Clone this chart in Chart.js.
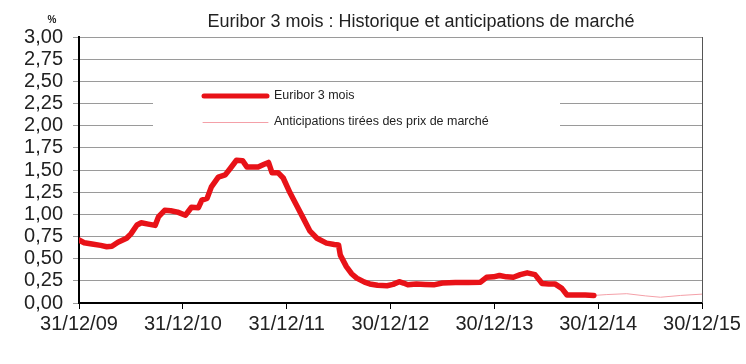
<!DOCTYPE html>
<html>
<head>
<meta charset="utf-8">
<script src="https://cdn.jsdelivr.net/npm/chart.js@4"></script>
<style>
  html, body { margin: 0; padding: 0; background: #fff; }
  #wrap { width: 746px; height: 364px; }
</style>
</head>
<body>
<div id="wrap"><canvas id="myChart" width="746" height="364"></canvas></div>
<script>
// titles and tick labels
var chartTitle = "Euribor 3 mois : Historique et anticipations de marché";
var unitLabel = "%";
var xTickLabels = ["31/12/09", "31/12/10", "31/12/11", "30/12/12", "30/12/13", "30/12/14", "30/12/15"];
var seriesNames = ["Euribor 3 mois", "Anticipations tirées des prix de marché"];

// Euribor 3 mois, months since 31/12/09
var euriborMonths = [0, 0.6, 1.5, 2.5, 3.2, 3.8, 4.5, 5.5, 6.0, 6.7, 7.2, 8.0, 8.8, 9.2, 9.9, 10.6, 11.4, 12.3,
    13.0, 13.8, 14.2, 14.8, 15.3, 16.1, 16.9, 17.5, 18.2, 18.9, 19.4, 20.2, 20.7, 21.4, 21.9, 22.3, 23.0, 23.6,
    24.4, 25.2, 25.9, 26.7, 27.5, 28.6, 29.5, 30.0, 30.2, 30.9, 31.5, 32.1, 33.0, 33.6, 34.5, 35.6, 36.3, 37.0,
    37.5, 38.0, 39.0, 40.0, 41.0, 42.0, 43.5, 45.0, 46.4, 47.1, 47.9, 48.6, 49.4, 50.2, 51.0, 51.8, 52.7, 53.2,
    53.5, 54.3, 55.0, 55.8, 56.4, 57.5, 58.5, 59.5];
var euriborValues = [0.71, 0.68, 0.665, 0.65, 0.635, 0.64, 0.685, 0.73, 0.78, 0.88, 0.905, 0.89, 0.875, 0.975, 1.045, 1.04, 1.025, 0.99,
    1.08, 1.075, 1.16, 1.18, 1.31, 1.42, 1.445, 1.52, 1.61, 1.605, 1.535, 1.535, 1.535, 1.565, 1.585, 1.47, 1.47, 1.41,
    1.24, 1.09, 0.96, 0.81, 0.73, 0.675, 0.66, 0.655, 0.54, 0.41, 0.33, 0.28, 0.235, 0.215, 0.2, 0.195, 0.21, 0.24,
    0.225, 0.205, 0.215, 0.21, 0.205, 0.225, 0.23, 0.23, 0.235, 0.29, 0.295, 0.31, 0.295, 0.29, 0.32, 0.34, 0.32, 0.26,
    0.22, 0.215, 0.215, 0.165, 0.09, 0.09, 0.09, 0.085];

// Anticipations tirées des prix de marché
var anticipMonths = [59.5, 61, 63.3, 65.5, 67.2, 69.5, 72];
var anticipValues = [0.085, 0.095, 0.105, 0.08, 0.065, 0.085, 0.1];

var RED = 'rgb(232,18,24)';
var PINK = 'rgb(244,160,168)';
var FONT = "'Liberation Sans', Arial, sans-serif";

function toPoints(xs, ys) {
    var pts = [];
    for (let i = 0; i < xs.length; i++) {
        pts.push({ x: xs[i], y: ys[i] });
    }
    return pts;
}

// title, unit, right border and the boxed legend
var decorations = {
    id: 'decorations',
    afterDraw: function (chart) {
        var ctx = chart.ctx;
        var area = chart.chartArea;
        ctx.save();
        ctx.fillStyle = '#222';
        ctx.font = '18px ' + FONT;
        ctx.textAlign = 'center';
        ctx.textBaseline = 'alphabetic';
        ctx.fillText(chartTitle, 421, 27);
        ctx.font = 'bold 10px ' + FONT;
        ctx.fillText(unitLabel, 52, 23);

        // right border
        ctx.strokeStyle = '#555';
        ctx.lineWidth = 1;
        ctx.beginPath();
        ctx.moveTo(area.right + 0.5, area.top);
        ctx.lineTo(area.right + 0.5, area.bottom);
        ctx.stroke();

        // legend
        ctx.fillStyle = '#fff';
        ctx.fillRect(153, 86, 407, 58);
        ctx.lineCap = 'round';
        ctx.strokeStyle = RED;
        ctx.lineWidth = 5;
        ctx.beginPath();
        ctx.moveTo(204, 96);
        ctx.lineTo(267, 96);
        ctx.stroke();
        ctx.strokeStyle = PINK;
        ctx.lineWidth = 1;
        ctx.beginPath();
        ctx.moveTo(203, 122.5);
        ctx.lineTo(268, 122.5);
        ctx.stroke();
        ctx.fillStyle = '#222';
        ctx.font = '12.5px ' + FONT;
        ctx.textAlign = 'left';
        ctx.textBaseline = 'middle';
        ctx.fillText(seriesNames[0], 274, 96);
        ctx.fillText(seriesNames[1], 274, 122);
        ctx.restore();
    }
};

var ctx = document.getElementById('myChart').getContext('2d');
var chart = new Chart(ctx, {
    type: 'line',
    data: {
        datasets: [{
            label: seriesNames[0],
            data: toPoints(euriborMonths, euriborValues),
            borderColor: RED,
            borderWidth: 5.5,
            pointRadius: 0,
            tension: 0,
            borderJoinStyle: 'round',
            borderCapStyle: 'round'
        }, {
            label: seriesNames[1],
            data: toPoints(anticipMonths, anticipValues),
            borderColor: PINK,
            borderWidth: 1,
            pointRadius: 0,
            tension: 0
        }]
    },
    options: {
        responsive: false,
        animation: false,
        layout: { padding: { top: 37, right: 44, left: 0, bottom: 0 } },
        plugins: {
            legend: { display: false },
            title: { display: false },
            tooltip: { enabled: false }
        },
        scales: {
            x: {
                type: 'linear',
                min: 0,
                max: 72,
                afterFit: function (scale) { scale.height = 61; },
                afterBuildTicks: function (scale) {
                    scale.ticks = xTickLabels.map(function (l, i) { return { value: i * 12 }; });
                },
                ticks: {
                    autoSkip: false,
                    maxRotation: 0,
                    padding: 3,
                    color: '#222',
                    font: { family: FONT, size: 20 },
                    callback: function (value) { return xTickLabels[Math.round(value / 12)]; }
                },
                grid: { drawOnChartArea: false, color: '#000', tickLength: 6, tickWidth: 1 },
                border: { color: '#000', width: 2 }
            },
            y: {
                min: 0,
                max: 3,
                afterFit: function (scale) { scale.width = 79; },
                ticks: {
                    stepSize: 0.25,
                    autoSkip: false,
                    padding: 10,
                    color: '#222',
                    font: { family: FONT, size: 20, lineHeight: 1 },
                    callback: function (value) { return value.toFixed(2).replace('.', ','); }
                },
                grid: { color: '#9a9a9a', lineWidth: 1, tickLength: 6 },
                border: { color: '#000', width: 2 }
            }
        }
    },
    plugins: [decorations]
});
</script>
</body>
</html>
